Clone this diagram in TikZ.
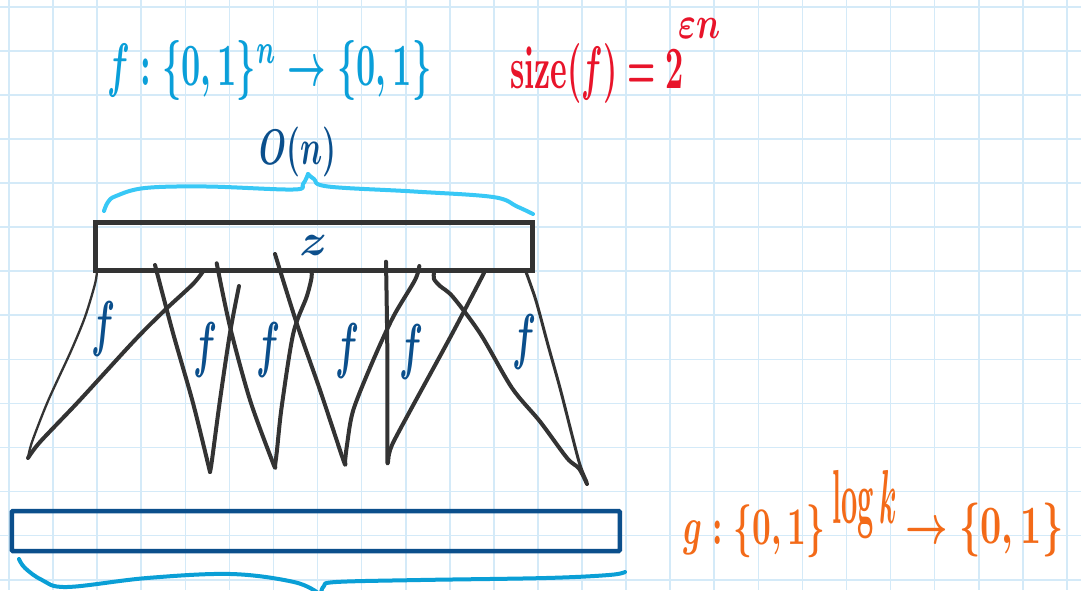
\documentclass[tikz,border=0pt]{standalone}
\usepackage{graphicx}
\definecolor{gridc}{HTML}{D4EAF8}
\definecolor{fcyan}{HTML}{0A9FD9}
\definecolor{bracecyan}{HTML}{38C8F6}
\definecolor{dblue}{HTML}{0B4F8C}
\definecolor{bbrace}{HTML}{0A9FD6}
\definecolor{redc}{HTML}{E8142A}
\definecolor{orangec}{HTML}{F36A18}
\definecolor{penGray}{HTML}{333333}
\newcommand{\flet}{\resizebox*{24pt}{55pt}{\boldmath$f$}}
\begin{document}
\begin{tikzpicture}[x=1pt,y=-1pt,
  gridline/.style={draw=gridc, line width=1.6pt},
  txt/.style={inner sep=0, anchor=north west},
  flab/.style={inner sep=0, text=dblue},
  pen/.style={draw=penGray, line width=4pt, line cap=round, line join=round},
  thinpen/.style={draw=penGray, line width=2.3pt, line cap=round, line join=round},
  zrect/.style={draw=penGray, line width=5pt, minimum width=437pt, minimum height=48pt, inner sep=0},
  grect/.style={draw=dblue, line width=4.5pt, minimum width=608pt, minimum height=40pt, inner sep=0, rounded corners=1pt},
  topbrace/.style={draw=bracecyan, line width=4pt, line cap=round, line join=round},
  botbrace/.style={draw=bbrace, line width=4pt, line cap=round, line join=round}]
\useasboundingbox (0,0) rectangle (1081,590);
\fill[white] (0,0) rectangle (1081,590);
% grid
\foreach \i in {0,...,24} \draw[gridline] ({9+44.08*\i},0) -- ({9+44.08*\i},590);
\foreach \j in {0,...,13} \draw[gridline] (0,{6.7+44.08*\j}) -- (1081,{6.7+44.08*\j});

% texts
\node[txt, text=fcyan] (fdef) at (107,40) {\resizebox*{324pt}{60pt}{\boldmath$f:\{0,1\}^n\to\{0,1\}$}};
\node[txt, text=redc] (size) at (510,43) {\resizebox*{174pt}{60pt}{\boldmath$\mathrm{size}(f)=2$}};
\node[txt, text=redc] (sizeexp) at (678,18) {\resizebox*{42pt}{20pt}{\boldmath$\varepsilon n$}};
\node[txt, text=dblue] (On) at (259,127) {\resizebox*{77pt}{50pt}{\boldmath$O(n)$}};
\node[txt, text=orangec] (gdef) at (683,505) {\resizebox*{142pt}{53pt}{\boldmath$g:\{0,1\}$}};
\node[txt, text=orangec] (gexp) at (832,470) {\resizebox*{65pt}{68pt}{\boldmath$\log k$}};
\node[txt, text=orangec] (gcod) at (905,503) {\resizebox*{158pt}{54pt}{\boldmath$\to\{0,1\}$}};

% top brace
\draw[topbrace] plot[smooth, tension=0.6] coordinates {(104,211) (108,202) (116,196) (145,188) (207,186.5) (293,189.5) (303,184) (308,174)};
\draw[topbrace] plot[smooth, tension=0.6] coordinates {(308,174) (314,179) (328,186.5) (414,191.5) (493,197) (517,206.5) (533,214)};

% z box
\node[zrect, text=dblue] (zbox) at (313.5,246) {\raisebox{2pt}{\resizebox*{28pt}{20pt}{\boldmath$z$}}};

% fan of f's
\draw[thinpen] plot[smooth, tension=0.5] coordinates {(97,271) (95,284) (85,317) (71,351) (48,401) (32,442) (28,458)};
\draw[pen] plot[smooth, tension=0.5] coordinates {(28,458) (40,442) (79,401) (134,341) (165,310) (193,284) (204,270)};
\draw[pen] plot[smooth, tension=0.5] coordinates {(155,265) (173,333) (193,403) (210,472)};
\draw[pen] plot[smooth, tension=0.5] coordinates {(210,472) (212,460) (220,400) (230,333) (239,286)};
\draw[pen] plot[smooth, tension=0.5] coordinates {(216.7,263.3) (230,326.7) (250,400) (273,463) (275,466)};
\draw[pen] plot[smooth, tension=0.5] coordinates {(275,466) (277,450) (281.7,406.7) (293.3,333.3) (306.7,296.7) (311.7,276.7) (310.7,270)};
\draw[pen] plot[smooth, tension=0.5] coordinates {(275,254) (296.7,323.3) (320,390) (343.3,460) (345,462)};
\draw[pen] plot[smooth, tension=0.5] coordinates {(345,462) (347,445) (353.3,410) (373.3,360) (393.3,316.7) (415,280) (419.3,266)};
\draw[pen] plot[smooth, tension=0.5] coordinates {(386,261.7) (387.3,350) (387.3,456.7) (388.3,458.3)};
\draw[pen] plot[smooth, tension=0.5] coordinates {(388.3,458.3) (392,445) (410,411) (452,334) (484,273)};
\draw[pen] plot[smooth, tension=0.5] coordinates {(434,273) (434,279) (440,286) (453,297) (480.5,334) (512,388) (540,421.5) (567,458) (579,468.5) (587,484)};
\draw[thinpen, line width=3pt] plot[smooth, tension=0.5] coordinates {(526,272) (536,300.7) (548,345) (560,388) (572,435) (580,465) (587,482)};

% f labels
\node[flab] (f1) at (104,329) {\flet};
\node[flab] (f2) at (205,350) {\flet};
\node[flab] (f3) at (268,350) {\flet};
\node[flab] (f4) at (347,351) {\flet};
\node[flab] (f5) at (411,352) {\flet};
\node[flab] (f6) at (524,342) {\flet};

% g box
\node[grect] (gbox) at (315.75,531) {};

% bottom brace
\draw[botbrace] plot[smooth, tension=0.6] coordinates {(19,559) (25,568) (42,580) (67,587) (147,578) (231,574) (294,582) (318,593)};
\draw[botbrace] plot[smooth, tension=0.6] coordinates {(321,593) (324,586) (336,582) (420,580) (546,578) (609,575) (625,572)};
\end{tikzpicture}
\end{document}
